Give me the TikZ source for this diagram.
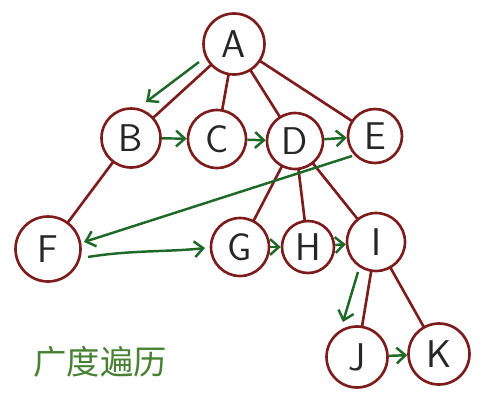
\documentclass[tikz,border=0pt]{standalone}
\usepackage{fontspec}
\newfontfamily\cjk{Noto Sans CJK SC}
\usetikzlibrary{arrows.meta}
\definecolor{nodered}{RGB}{125,28,28}
\definecolor{arrowgreen}{RGB}{30,105,40}
\definecolor{textgreen}{RGB}{70,130,50}
\tikzset{
  vert/.style={circle, draw=nodered, line width=1.5pt, fill=white, minimum size=#1, inner sep=0pt,
    font=\sffamily\fontsize{22}{22}\selectfont, text=black!85},
  vert/.default=1.18cm,
  tedge/.style={draw=nodered, line width=1.5pt},
  garrow/.style={draw=arrowgreen, line width=1.4pt, -{Straight Barb[length=5pt,width=9pt]}},
}
\begin{document}
\begin{tikzpicture}[x=0.02cm, y=-0.02cm]
\useasboundingbox[fill=white] (0,0) rectangle (500,400);
% edges first
\coordinate (pA) at (234,44);
\coordinate (pB) at (131,138);
\coordinate (pC) at (217,139);
\coordinate (pD) at (295,141);
\coordinate (pE) at (375,136);
\coordinate (pF) at (48,249);
\coordinate (pG) at (240,247);
\coordinate (pH) at (308,247);
\coordinate (pI) at (376,242);
\coordinate (pJ) at (357,357);
\coordinate (pK) at (439,354);
\draw[tedge] (pA) -- (pB) (pA) -- (pC) (pA) -- (pD) (pA) -- (pE)
  (pB) -- (pF) (pD) -- (pG) (pD) -- (pH) (pD) -- (pI) (pI) -- (pJ) (pI) -- (pK);
\node[vert=1.22cm] (A) at (pA) {A};
\node[vert] (B) at (pB) {B};
\node[vert=1.16cm] (C) at (pC) {C};
\node[vert=1.12cm] (D) at (pD) {D};
\node[vert=1.08cm] (E) at (pE) {E};
\node[vert=1.3cm] (F) at (pF) {F};
\node[vert=1.16cm] (G) at (pG) {G};
\node[vert=1.04cm] (H) at (pH) {H};
\node[vert=1.16cm] (I) at (pI) {I};
\node[vert=1.22cm] (J) at (pJ) {J};
\node[vert=1.22cm] (K) at (pK) {K};
% green traversal arrows
\coordinate (a1) at (199,62);
\coordinate (a2) at (146,102);
\draw[garrow] (a1) -- (a2);
\draw[garrow] (B) -- (C);
\draw[garrow] (C) -- (D);
\draw[garrow] (D) -- (E);
\coordinate (e1) at (352,156);
\coordinate (f1) at (84,242);
\draw[garrow] (e1) -- (f1);
\coordinate (f2) at (88,257);
\coordinate (g1) at (205,248);
\draw[garrow] (f2) .. controls (130,250) and (170,252) .. (g1);
\draw[garrow] (G) -- (H);
\draw[garrow] (H) -- (I);
\coordinate (i1) at (358,272);
\coordinate (j1) at (343,322);
\draw[garrow] (i1) -- (j1);
\draw[garrow] (J) -- (K);
\node[text=textgreen, font=\cjk\fontsize{19}{19}\selectfont] (title) at (100,362) {广度遍历};
\end{tikzpicture}
\end{document}
